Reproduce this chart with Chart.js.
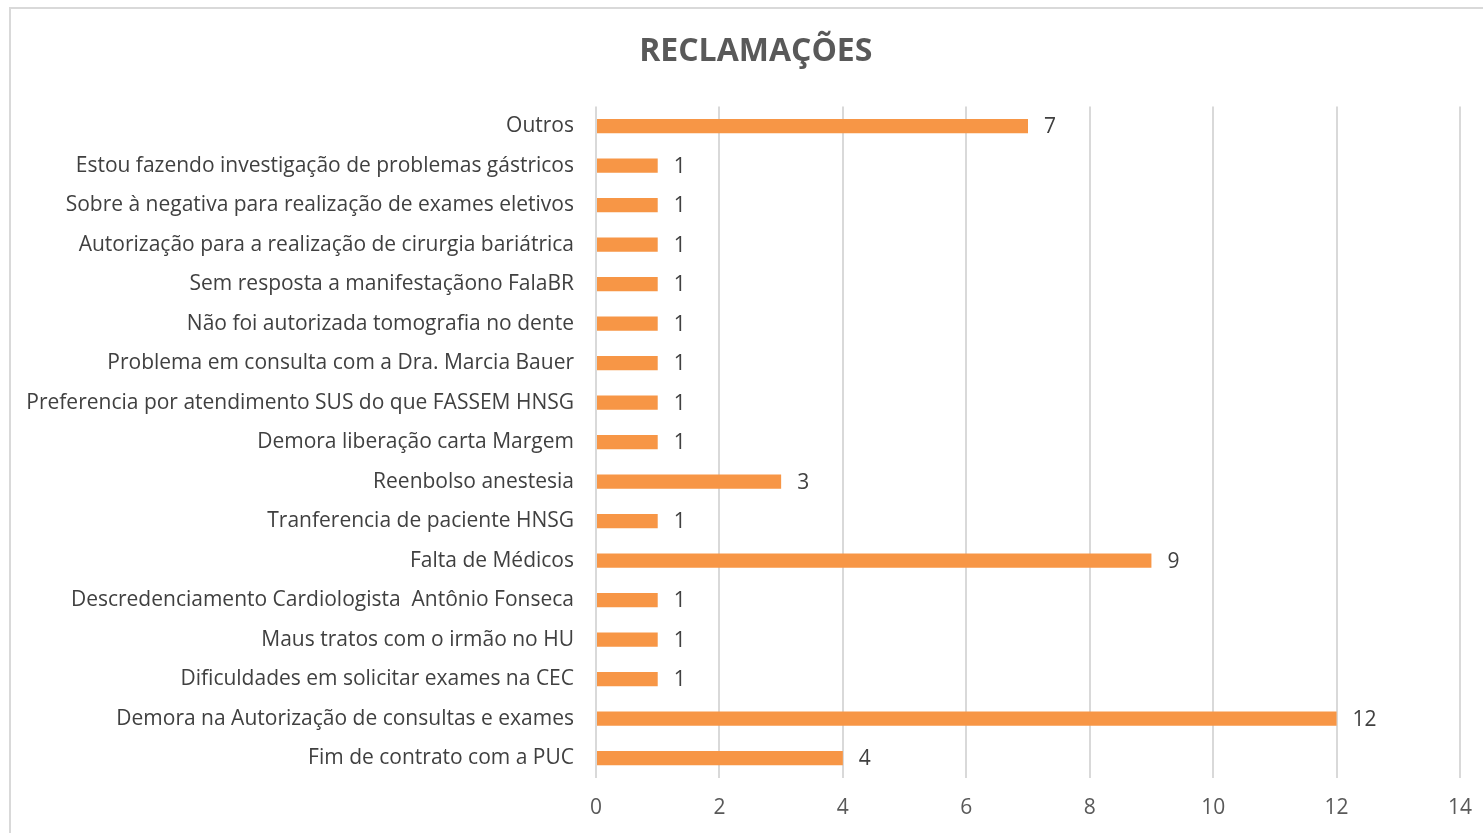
<!DOCTYPE html>
<html>
<head>
<meta charset="utf-8">
<script src="https://cdn.jsdelivr.net/npm/chart.js@4"></script>
<style>
    html, body { margin: 0; padding: 0; overflow: hidden; background: #fff; }
    #frame {
        position: absolute; left: 9px; top: 7px;
        width: 1500px; height: 860px;
        border: 2px solid #d9d9d9; box-sizing: border-box;
    }
    #wrap { position: absolute; left: 0; top: 0; width: 1483px; height: 833px; }
</style>
</head>
<body>
<div id="frame"></div>
<div id="wrap"><canvas id="chart"></canvas></div>
<script>
// Reclamações - horizontal bar chart

const categories = [
    'Outros',
    'Estou fazendo investigação de problemas gástricos',
    'Sobre à negativa para realização de exames eletivos',
    'Autorização para a realização de cirurgia bariátrica',
    'Sem resposta a manifestaçãono FalaBR',
    'Não foi autorizada tomografia no dente',
    'Problema em consulta com a Dra. Marcia Bauer',
    'Preferencia por atendimento SUS do que FASSEM HNSG',
    'Demora liberação carta Margem',
    'Reenbolso anestesia',
    'Tranferencia de paciente HNSG',
    'Falta de Médicos',
    'Descredenciamento Cardiologista  Antônio Fonseca',
    'Maus tratos com o irmão no HU',
    'Dificuldades em solicitar exames na CEC',
    'Demora na Autorização de consultas e exames',
    'Fim de contrato com a PUC'
];
const reclamacoes = [7, 1, 1, 1, 1, 1, 1, 1, 1, 3, 1, 9, 1, 1, 1, 12, 4];
const xTicks = [0, 2, 4, 6, 8, 10, 12, 14];

const FONT = "'Open Sans', sans-serif";

// value labels to the right of each bar
const valueLabels = {
    id: 'valueLabels',
    afterDatasetsDraw(chart) {
        const ctx = chart.ctx;
        const meta = chart.getDatasetMeta(0);
        ctx.save();
        ctx.font = '21px ' + FONT;
        ctx.fillStyle = '#404040';
        ctx.textAlign = 'left';
        ctx.textBaseline = 'middle';
        meta.data.forEach((bar, i) => {
            ctx.fillText(String(reclamacoes[i]), bar.x + 16, bar.y + 1);
        });
        ctx.restore();
    }
};

document.addEventListener('DOMContentLoaded', () => {
    const ctx = document.getElementById('chart').getContext('2d');

    new Chart(ctx, {
        type: 'bar',
        data: {
            labels: categories,
            datasets: [{
                label: 'Reclamações',
                data: reclamacoes,
                backgroundColor: '#F79646',
                borderWidth: 0,
                categoryPercentage: 1,
                barPercentage: 0.36
            }]
        },
        options: {
            indexAxis: 'y',
            responsive: true,
            maintainAspectRatio: false,
            animation: false,
            layout: {
                padding: { left: 10, right: 23, top: 0, bottom: -6 }
            },
            scales: {
                x: {
                    min: 0,
                    max: 14,
                    afterBuildTicks: (scale) => {
                        scale.ticks = xTicks.map(v => ({ value: v }));
                    },
                    afterFit: (scale) => {
                        scale.paddingLeft = 0;
                        scale.paddingRight = 0;
                    },
                    grid: { color: '#d9d9d9', lineWidth: 2, drawTicks: false },
                    border: { display: false },
                    ticks: {
                        padding: 18,
                        color: '#595959',
                        font: { family: FONT, size: 21 }
                    }
                },
                y: {
                    afterFit: (scale) => { scale.width = 586; },
                    grid: { display: false, drawTicks: false },
                    border: { display: false },
                    ticks: {
                        padding: 22,
                        color: '#404040',
                        autoSkip: false,
                        font: { family: FONT, size: 21 }
                    }
                }
            },
            plugins: {
                legend: { display: false },
                tooltip: { enabled: false },
                title: {
                    display: true,
                    // leading spaces nudge the centred title a little to the right
                    text: '     RECLAMAÇÕES',
                    color: '#595959',
                    font: { family: FONT, size: 32, weight: 'bold' },
                    padding: { top: 33, bottom: 35 }
                }
            }
        },
        plugins: [valueLabels]
    });
});
</script>
</body>
</html>
